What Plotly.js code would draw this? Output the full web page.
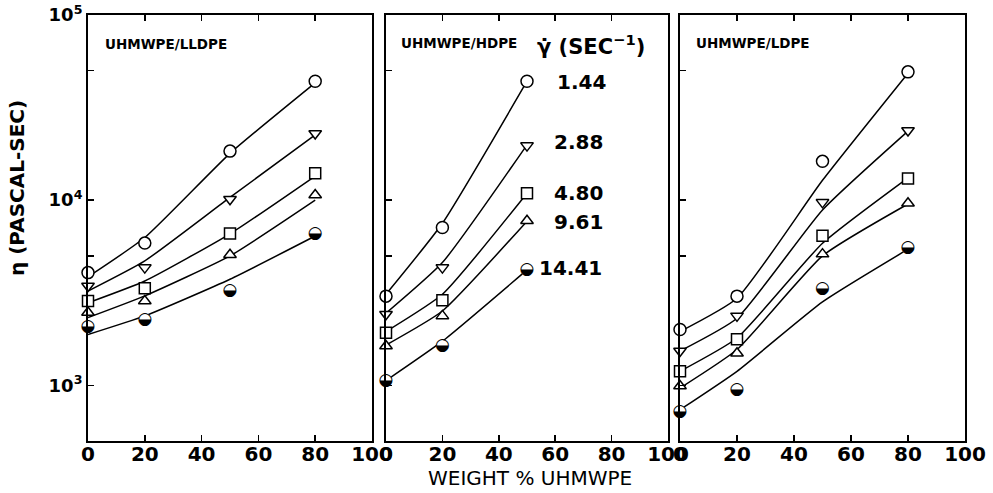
<!DOCTYPE html>
<html><head><meta charset="utf-8">
<script src="https://cdn.plot.ly/plotly-3.0.1.min.js"></script>
<style>html,body{margin:0;padding:0;background:#fff}</style>
</head><body><div id="chart" style="width:993px;height:493px"></div>
<script>
// ---- data ----
const shearRates = ['1.44', '2.88', '4.80', '9.61', '14.41'];
const panelNames = ['UHMWPE/LLDPE', 'UHMWPE/HDPE', 'UHMWPE/LDPE'];

const weightLLDPE = [0, 20, 50, 80];
const weightHDPE = [0, 20, 50];
const weightLDPE = [0, 20, 50, 80];

// measured viscosities (Pa·s), rows = shear rates 1.44, 2.88, 4.80, 9.61, 14.41
const etaLLDPE = [
  [4060, 5860, 18400, 43900],
  [3440, 4320, 10100, 22900],
  [2850, 3340, 6610, 13960],
  [2470, 2850, 5070, 10660],
  [2060, 2270, 3260, 6610]
];
const etaHDPE = [
  [3030, 7120, 43900],
  [2420, 4320, 19700],
  [1920, 2880, 10900],
  [1630, 2370, 7740],
  [1060, 1630, 4190]
];
const etaLDPE = [
  [2000, 3030, 16200, 49300],
  [1530, 2370, 9730, 23800],
  [1190, 1770, 6420, 13100],
  [990, 1490, 5110, 9620],
  [723, 949, 3340, 5510]
];

// drawn fit curves
const fitLLDPE = [
  [3850, 6280, 17900, 43000],
  [3230, 4700, 10350, 22500],
  [2790, 3660, 6580, 13500],
  [2320, 3040, 5000, 10000],
  [1880, 2370, 3740, 6400]
];
const fitHDPE = [
  [3100, 7500, 43900],
  [2450, 4600, 19900],
  [1950, 3100, 10900],
  [1650, 2520, 7700],
  [1060, 1730, 4200]
];
const fitLDPE = [
  [1950, 2950, 12800, 48500],
  [1530, 2300, 8850, 23600],
  [1190, 1800, 5850, 13200],
  [966, 1560, 5000, 9530],
  [738, 1190, 2820, 5430]
];

const xTickVals = [0, 20, 40, 60, 80, 100];
const xTickText = ['0', '20', '40', '60', '80', '100'];
const yTickVals = [1000, 10000, 100000];
const yTickText = ['10<sup>3</sup>', '10<sup>4</sup>', '10<sup>5</sup>'];
const yMinorTickVals = [5000, 50000];

// ---- styling ----
const W = 993, H = 493;
const px = v => v / W;
const py = v => 1 - v / H;
const FONT = 'DejaVu Sans';
const symbols = ['circle', 'triangle-down', 'square', 'triangle-up', 'half'];
const sizes = [12, 11, 11, 11, 12];
const halfGlyph = '\u25D2';

const panels = [
  {x: weightLLDPE, eta: etaLLDPE, fit: fitLLDPE, xa: 'x', ya: 'y'},
  {x: weightHDPE, eta: etaHDPE, fit: fitHDPE, xa: 'x2', ya: 'y2'},
  {x: weightLDPE, eta: etaLDPE, fit: fitLDPE, xa: 'x3', ya: 'y3'}
];

const traces = [];
panels.forEach(p => {
  p.fit.forEach((row, i) => {
    traces.push({
      x: p.x, y: row, xaxis: p.xa, yaxis: p.ya, mode: 'lines',
      line: {color: '#000', width: 1.5, shape: 'spline', smoothing: 0.5},
      hoverinfo: 'skip', showlegend: false
    });
  });
});
panels.forEach(p => {
  p.eta.forEach((row, i) => {
    if (symbols[i] === 'half') {
      traces.push({
        x: p.x, y: row, xaxis: p.xa, yaxis: p.ya, mode: 'markers+text', cliponaxis: false,
        marker: {symbol: 'circle', size: 12, color: '#fff', line: {width: 0}},
        text: row.map(() => halfGlyph), textposition: 'middle center',
        textfont: {family: FONT, size: 17, color: '#000'},
        showlegend: false, name: shearRates[i]
      });
    } else {
      traces.push({
        x: p.x, y: row, xaxis: p.xa, yaxis: p.ya, mode: 'markers', cliponaxis: false,
        marker: {symbol: symbols[i], size: sizes[i], color: '#fff', line: {color: '#000', width: 1.5}},
        showlegend: false, name: shearRates[i]
      });
    }
  });
});

const xDomains = [[88 / W, 372 / W], [386 / W, 668 / W], [680 / W, 965 / W]];
const yDomain = [1 - 441 / H, 1 - 15 / H];

function xAxis(dom, anchor) {
  return {
    domain: dom, anchor: anchor, range: [0, 100], tickvals: xTickVals, ticktext: xTickText,
    ticks: 'inside', ticklen: 6, tickwidth: 1.5, tickcolor: '#000', ticklabelstandoff: -6,
    showline: true, linewidth: 2, linecolor: '#000', mirror: 'ticks',
    showgrid: false, zeroline: false, fixedrange: true,
    tickfont: {family: FONT, size: 20, weight: 700, color: '#000'}
  };
}
function yAxis(anchor, labels) {
  return {
    domain: yDomain, anchor: anchor, type: 'log', range: [Math.log10(500), 5],
    tickvals: yTickVals, ticktext: yTickText, showticklabels: labels,
    ticks: 'inside', ticklen: 6, tickwidth: 1.5, tickcolor: '#000',
    minor: {tickvals: yMinorTickVals, ticks: 'inside', ticklen: 6, tickwidth: 1.5, tickcolor: '#000', showgrid: false},
    showline: true, linewidth: 2, linecolor: '#000', mirror: true,
    showgrid: false, zeroline: false, fixedrange: true,
    tickfont: {family: FONT, size: 18, weight: 700, color: '#000'}
  };
}

// label positions (pixels)
const panelLabelPos = [[103, 44], [399, 43], [694, 43]];
const rateLabelPos = [[555, 82], [552, 142], [552, 193], [552, 222], [537, 268]];

const annotations = [];
panelNames.forEach((t, i) => annotations.push({
  text: t, xref: 'paper', yref: 'paper', x: px(panelLabelPos[i][0]), y: py(panelLabelPos[i][1]),
  xanchor: 'left', yanchor: 'middle', showarrow: false,
  font: {family: FONT, size: 13.5, weight: 700, color: '#000'}
}));
shearRates.forEach((t, i) => annotations.push({
  text: t, xref: 'paper', yref: 'paper', x: px(rateLabelPos[i][0]), y: py(rateLabelPos[i][1]),
  xanchor: 'left', yanchor: 'middle', showarrow: false,
  font: {family: FONT, size: 20, weight: 700, color: '#000'}
}));
annotations.push({
  text: '\u03B3\u0307 (SEC<sup>\u22121</sup>)', xref: 'paper', yref: 'paper', x: px(535), y: py(45),
  xanchor: 'left', yanchor: 'middle', showarrow: false,
  font: {family: FONT, size: 21, weight: 700, color: '#000'}
});
annotations.push({
  text: 'WEIGHT % UHMWPE', xref: 'paper', yref: 'paper', x: px(530), y: py(478),
  xanchor: 'center', yanchor: 'middle', showarrow: false,
  font: {family: FONT, size: 20, color: '#000'}
});
annotations.push({
  text: '\u03B7 (PASCAL-SEC)', xref: 'paper', yref: 'paper', x: px(17), y: py(188), textangle: -90,
  xanchor: 'center', yanchor: 'middle', showarrow: false,
  font: {family: FONT, size: 20, weight: 700, color: '#000'}
});

const layout = {
  width: W, height: H, margin: {l: 0, r: 0, t: 0, b: 0},
  paper_bgcolor: '#fff', plot_bgcolor: '#fff', showlegend: false,
  xaxis: xAxis(xDomains[0], 'y'), xaxis2: xAxis(xDomains[1], 'y2'), xaxis3: xAxis(xDomains[2], 'y3'),
  yaxis: yAxis('x', true), yaxis2: yAxis('x2', false), yaxis3: yAxis('x3', false),
  annotations: annotations
};

Plotly.newPlot('chart', traces, layout, {staticPlot: true, displayModeBar: false});
</script></body></html>
